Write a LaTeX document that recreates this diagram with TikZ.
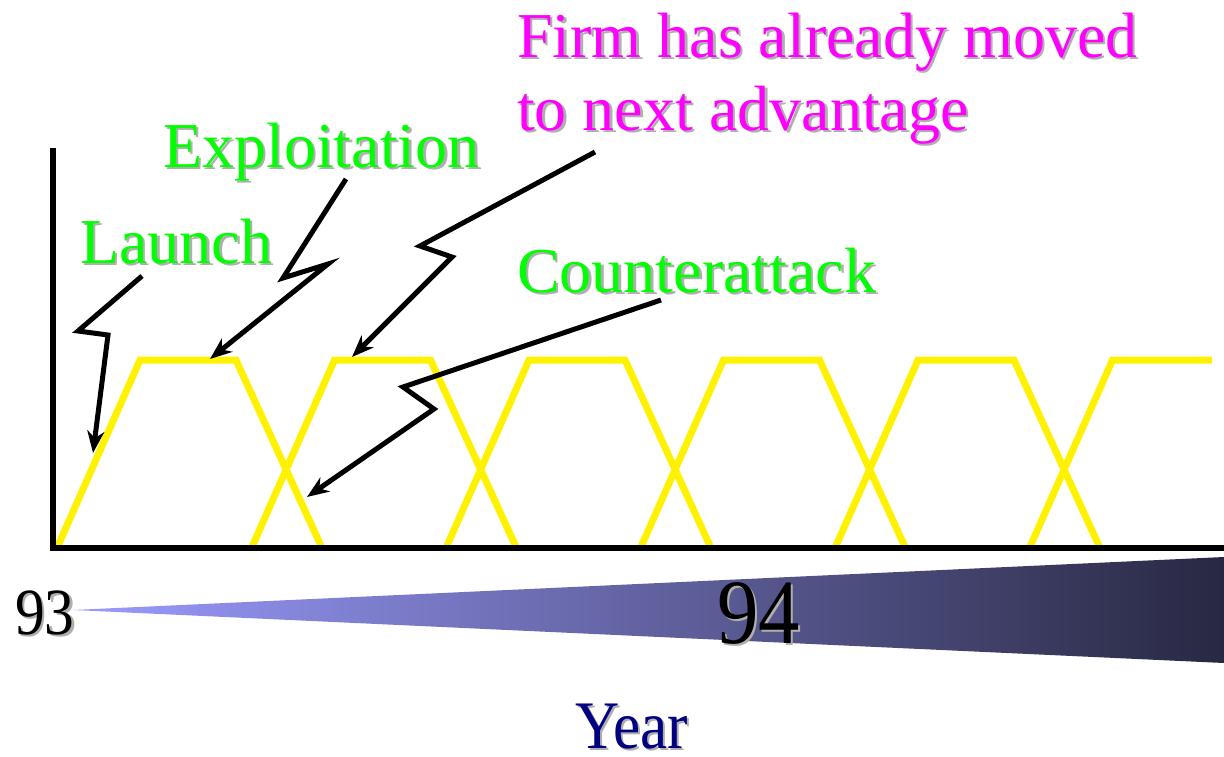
\documentclass[tikz,border=0pt]{standalone}
\usepackage{fontspec}
\setmainfont{Liberation Serif}
\usetikzlibrary{arrows.meta}
\definecolor{lblgreen}{RGB}{0,255,0}
\definecolor{lblmag}{RGB}{255,0,255}
\definecolor{shgray}{RGB}{175,175,175}
\definecolor{navytxt}{RGB}{0,0,128}
\definecolor{wedgel}{RGB}{155,155,255}
\definecolor{wedger}{RGB}{40,40,66}
\newcommand\shd[2]{\makebox[0pt][l]{\kern2.5pt\raisebox{-2.5pt}{\color{shgray}#2}}{\color{#1}#2}}
\tikzset{
  lbl/.style={anchor=base west, inner sep=0pt, font=\fontsize{64}{73}\selectfont},
  axisline/.style={line width=6pt, black},
  curve/.style={line width=7pt, yellow, line join=miter},
  zz/.style={line width=5pt, black, line join=miter, -{Stealth[length=22pt,width=17pt,inset=7pt]}}
}
\begin{document}
\begin{tikzpicture}[x=1pt, y=-1pt]
\useasboundingbox (0,0) rectangle (1224,756);
% gradient wedge
\shade[left color=wedgel, right color=wedger] (73,610) -- (1224,557) -- (1224,663) -- cycle;
% yellow curves
\foreach \x in {57,251.5,446,640.5,835}{
  \draw[curve] (\x,548) -- (\x+83,360) -- (\x+179,360) -- (\x+265,548);
}
\draw[curve] (1029.5,548) -- (1112.5,360) -- (1212,360);
% axes
\coordinate (o) at (53,548);
\coordinate (ytop) at (53,148);
\coordinate (xend) at (1224,548);
\draw[axisline] (ytop) -- (53,551);
\draw[axisline] (50,548) -- (xend);
% labels
\node[lbl] (launch) at (80,263) {\shd{lblgreen}{Launch}};
\node[lbl] (exploit) at (163,167) {\shd{lblgreen}{Exploitation}};
\node[lbl] (counter) at (517,292) {\shd{lblgreen}{Counterattack}};
\node[lbl] (firm1) at (517,57) {\shd{lblmag}{Firm has already moved}};
\node[lbl] (firm2) at (517,130) {\shd{lblmag}{to next advantage}};
% arrow endpoints
\coordinate (la) at (142,276);
\coordinate (lt) at (93,453);
\coordinate (ea) at (346,179);
\coordinate (et) at (210,359);
\coordinate (fa) at (595,152);
\coordinate (ft) at (352,357);
\coordinate (ca) at (661,300);
\coordinate (ct) at (307,497);
\draw[zz] (la) -- (78,331) -- (108,335) -- (lt);
\draw[zz] (ea) -- (283,278) -- (328,264) -- (et);
\draw[zz] (fa) -- (420,246) -- (452,257) -- (ft);
\draw[zz] (ca) -- (403,387) -- (434,409) -- (ct);
% year labels
\node[anchor=base west, inner sep=0pt, font=\fontsize{66}{70}\selectfont] (y93) at (15,634) {\scalebox{0.9}[1]{\shd{black}{93}}};
\node[anchor=base west, inner sep=0pt, font=\fontsize{92}{96}\selectfont] (y94) at (717,643) {\scalebox{0.9}[1]{\shd{black}{94}}};
\node[anchor=base west, inner sep=0pt, font=\fontsize{68}{72}\selectfont] (year) at (575,748) {\scalebox{0.9}[1]{\shd{navytxt}{Year}}};
\end{tikzpicture}
\end{document}
